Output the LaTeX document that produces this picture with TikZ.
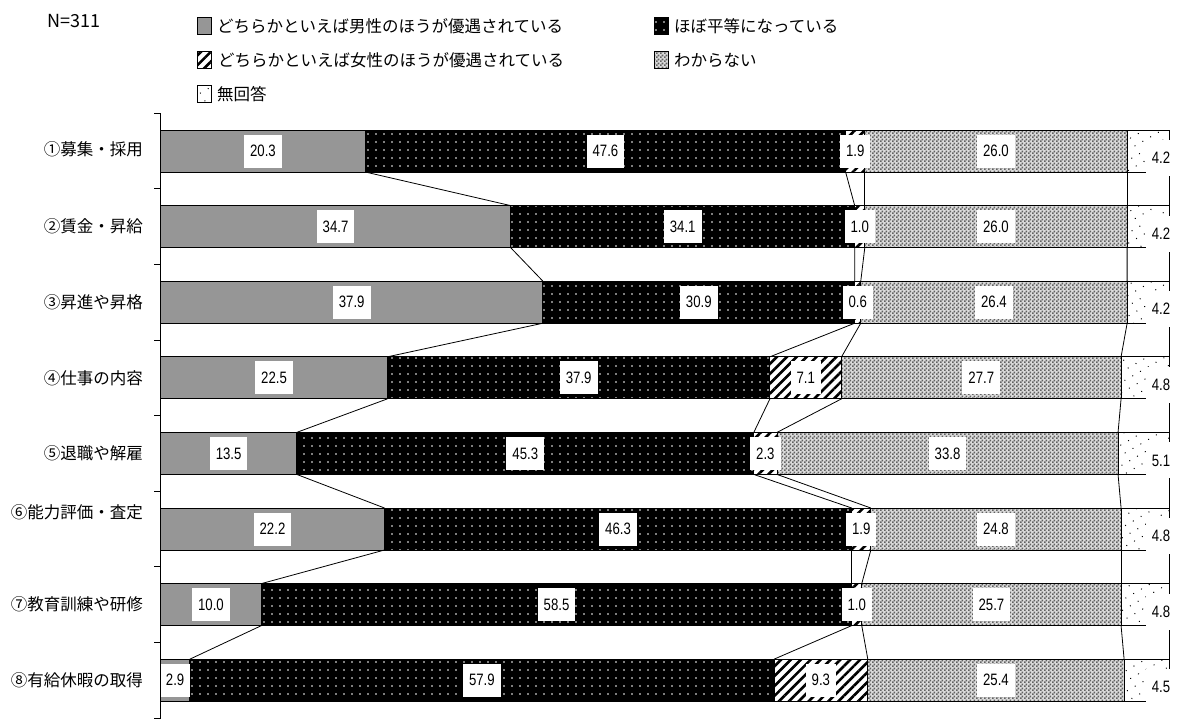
\documentclass[tikz,border=0pt]{standalone}
\usepackage{fontspec}
\setmainfont{Noto Sans CJK JP}
\newfontfamily\numfont[FakeStretch=0.8]{Liberation Sans}
\usetikzlibrary{positioning,patterns.meta}

\tikzdeclarepattern{
  name=finecheck,
  type=uncolored,
  bottom left={(0pt,0pt)},
  top right={(4pt,4pt)},
  tile size={(4pt,4pt)},
  code={
    \fill (0pt,0pt) rectangle (2pt,2pt);
    \fill (2pt,2pt) rectangle (4pt,4pt);
  }
}

\tikzset{
  segbox/.style={draw=black,line width=0.9pt},
  segA/.style={segbox,fill=black!41},
  segB/.style={segbox,preaction={fill=black},
    pattern={Dots[distance=8pt,radius=0.9pt]},pattern color=white},
  segC/.style={segbox,preaction={fill=white},
    pattern={Lines[angle=45,distance=7pt,line width=2.6pt]},pattern color=black},
  segD/.style={segbox,preaction={fill=black!14},
    pattern=finecheck,pattern color=black!62},
  segE/.style={segbox,preaction={fill=white},
    pattern={Dots[distance=9pt,radius=0.7pt,angle=30]},pattern color=black},
  serline/.style={draw=black,line width=0.8pt},
  axisline/.style={draw=black,line width=0.9pt},
  val/.style={fill=white,inner xsep=6pt,inner ysep=0pt,minimum height=33pt,
    font=\numfont\fontsize{16.5}{18}\selectfont},
  catlabel/.style={anchor=east,inner sep=0pt,font=\fontsize{16.5}{18}\selectfont},
  legsq/.style={minimum width=14pt,minimum height=17pt,inner sep=0pt},
  legtxt/.style={inner sep=0pt,font=\fontsize{16.5}{18}\selectfont}
}

% row/male/equal/female/unknown/noanswer/label/label shift
\def\chartrows{1/20.3/47.6/1.9/26.0/4.2/①募集・採用/-2,
  2/34.7/34.1/1.0/26.0/4.2/②賃金・昇給/0,
  3/37.9/30.9/0.6/26.4/4.2/③昇進や昇格/0,
  4/22.5/37.9/7.1/27.7/4.8/④仕事の内容/0,
  5/13.5/45.3/2.3/33.8/5.1/⑤退職や解雇/0,
  6/22.2/46.3/1.9/24.8/4.8/⑥能力評価・査定/-17,
  7/10.0/58.5/1.0/25.7/4.8/⑦教育訓練や研修/0,
  8/2.9/57.9/9.3/25.4/4.5/⑧有給休暇の取得/0}
\def\xo{160.5}
\def\xs{10.09}

\begin{document}
\begin{tikzpicture}[x=1pt,y=-1pt]
\path[use as bounding box,fill=white] (0,0) rectangle (1190,718);

% legend
\node[font=\fontsize{18}{20}\selectfont,inner sep=0pt] (total) at (74,21) {N=311};
\node[legsq,segA] (kA) at (204.5,26) {};
\node[legtxt,right=5pt of kA] (tA) {どちらかといえば男性のほうが優遇されている};
\node[legsq,segB] (kB) at (661.5,26) {};
\node[legtxt,right=5pt of kB] (tB) {ほぼ平等になっている};
\node[legsq,segC] (kC) at (204.5,60) {};
\node[legtxt,right=5pt of kC] (tC) {どちらかといえば女性のほうが優遇されている};
\node[legsq,segD] (kD) at (661.5,60) {};
\node[legtxt,right=5pt of kD] (tD) {わからない};
\node[legsq,segE] (kE) at (204.5,94) {};
\node[legtxt,right=5pt of kE] (tE) {無回答};

% bars
\foreach \r/\va/\vb/\vc/\vd/\ve/\catname/\dy in \chartrows {
  \pgfmathsetmacro\ym{151+75.6*(\r-1)}
  \pgfmathsetmacro\pa{\va}
  \pgfmathsetmacro\pb{\pa+\vb}
  \pgfmathsetmacro\pc{\pb+\vc}
  \pgfmathsetmacro\pd{\pc+\vd}
  \foreach \k/\p in {0/0,1/\pa,2/\pb,3/\pc,4/\pd,5/100}{
    \coordinate (b\r-\k-up) at ({\xo+\xs*\p},{\ym-21});
    \coordinate (b\r-\k-lo) at ({\xo+\xs*\p},{\ym+21});
  }
  \coordinate (m\r-1) at ({\xo+\xs*\pa/2},\ym);
  \coordinate (m\r-2) at ({\xo+\xs*(\pa+\pb)/2},\ym);
  \coordinate (m\r-3) at ({\xo+\xs*(\pb+\pc)/2},\ym);
  \coordinate (m\r-4) at ({\xo+\xs*(\pc+\pd)/2},\ym);
  \coordinate (m\r-5) at (1161,{\ym+7});
  \path[segA] (b\r-0-up) rectangle (b\r-1-lo);
  \path[segB] (b\r-1-up) rectangle (b\r-2-lo);
  \path[segC] (b\r-2-up) rectangle (b\r-3-lo);
  \path[segD] (b\r-3-up) rectangle (b\r-4-lo);
  \path[segE] (b\r-4-up) rectangle (b\r-5-lo);
  \node[catlabel] (c\r) at (143,{\ym+\dy}) {\catname};
}

% series lines
\foreach \r [count=\s from 2] in {1,...,7}
  \foreach \k in {1,...,5}
    \draw[serline] (b\r-\k-lo) -- (b\s-\k-up);

% values
\foreach \r/\va/\vb/\vc/\vd/\ve/\catname/\dy in \chartrows {
  \node[val] (v\r-1) at (m\r-1) {\va};
  \node[val] (v\r-2) at (m\r-2) {\vb};
  \node[val] (v\r-3) at (m\r-3) {\vc};
  \node[val] (v\r-4) at (m\r-4) {\vd};
  \node[val,minimum height=36pt] (v\r-5) at (m\r-5) {\ve};
}

% axis
\draw[axisline] (160.5,113.3) -- (160.5,718);
\foreach \k in {0,...,8}
  \draw[axisline] (154,{113.3+75.6*\k}) -- (160.5,{113.3+75.6*\k});
\end{tikzpicture}
\end{document}
